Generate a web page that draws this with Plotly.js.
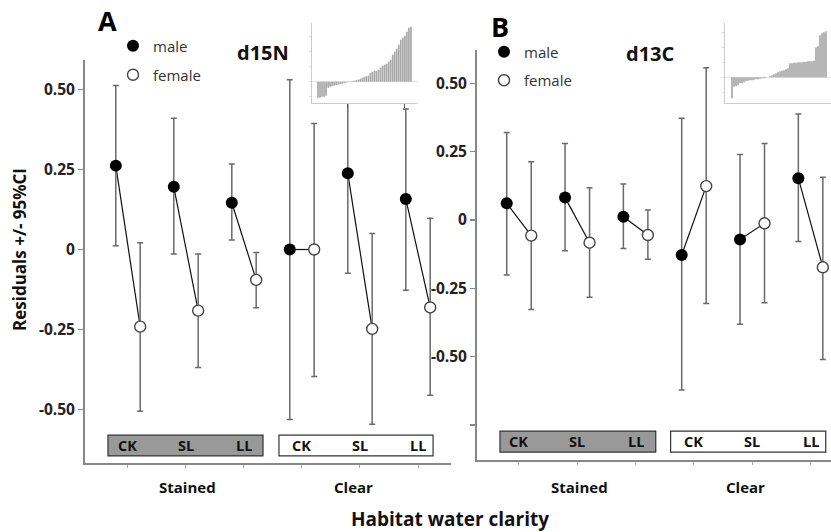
<!DOCTYPE html>
<html>
<head>
<meta charset="utf-8">
<script src="https://cdn.plot.ly/plotly-3.0.1.min.js"></script>
<style>html,body{margin:0;padding:0;background:#fff;}#chart{width:831px;height:532px;}</style>
</head>
<body>
<div id="chart"></div>
<script>
// ---------- DATA ----------
var categories = ['CK', 'SL', 'LL', 'CK', 'SL', 'LL'];
var clarity = ['Stained', 'Clear'];
var yTickValsA = [0.5, 0.25, 0, -0.25, -0.5];
var yTickTextA = ['0.50', '0.25', '0', '-0.25', '-0.50'];
var yTickValsB = [0.5, 0.25, 0, -0.25, -0.5, -0.75];
var yTickTextB = ['0.50', '0.25', '0', '-0.25', '-0.50', ''];

// Panel A: d15N
var maleA    = [0.262, 0.196, 0.146, 0.000, 0.238, 0.158];
var maleAHi  = [0.512, 0.410, 0.267, 0.530, 0.560, 0.439];
var maleALo  = [0.012, -0.014, 0.030, -0.531, -0.074, -0.127];
var femaleA   = [-0.241, -0.191, -0.095, 0.000, -0.248, -0.181];
var femaleAHi = [0.021, -0.014, -0.009, 0.394, 0.050, 0.098];
var femaleALo = [-0.505, -0.369, -0.182, -0.397, -0.546, -0.455];

// Panel B: d13C
var maleB    = [0.061, 0.082, 0.012, -0.128, -0.071, 0.153];
var maleBHi  = [0.320, 0.280, 0.132, 0.372, 0.240, 0.388];
var maleBLo  = [-0.201, -0.112, -0.104, -0.622, -0.381, -0.079];
var femaleB   = [-0.057, -0.083, -0.055, 0.124, -0.012, -0.173];
var femaleBHi = [0.213, 0.118, 0.037, 0.557, 0.280, 0.156];
var femaleBLo = [-0.327, -0.283, -0.144, -0.305, -0.303, -0.510];

// Inset distributions (sorted residuals)
var insetA = [-16, -16, -15, -15, -14, -6, -5, -4.5, -4, -3.5, -3, -2.5, -2, -1.5,
  -1, -0.5, 0, 0.5, 1, 1.5, 2, 3, 4, 5, 5.5, 6, 9, 10, 11, 11, 12, 14,
  16, 17, 18, 20, 22, 27, 30, 33, 37, 42, 44, 46, 50, 54, 55];
var insetB = [-21, -9.5, -9, -8, -6, -6, -5, -4, -3.5, -3, -3, -2.5, -2, -2, -1.5, -1, -1, -0.5, 0,
  1, 2, 3, 4, 5, 6, 6.5, 7, 8, 9,
  14, 14, 14.5, 14.5, 15, 15, 15, 15.5, 15.5, 16, 16, 16, 16.5,
  30, 31, 42, 44, 45, 46];

// ---------- BUILD ----------
var OFF = 0.21;
var FONT = 'Open Sans, Arial, sans-serif';
var W = 831, H = 532;
function px(x) { return x / W; }
function py(y) { return 1 - y / H; }

function idx(arr) { return arr.map(function (_, i) { return i; }); }
function diff(a, b) { return a.map(function (v, i) { return v - b[i]; }); }

function panelTraces(male, mHi, mLo, female, fHi, fLo, xa, ya, legendId) {
  var xm = idx(male).map(function (i) { return i - OFF; });
  var xf = idx(female).map(function (i) { return i + OFF; });
  var lx = [], ly = [];
  for (var i = 0; i < male.length; i++) {
    lx.push(xm[i], xf[i], null);
    ly.push(male[i], female[i], null);
  }
  var errStyle = { type: 'data', symmetric: false, color: '#6a6a6a', thickness: 1.5, width: 3 };
  return [
    { type: 'scatter', mode: 'lines', x: lx, y: ly, xaxis: xa, yaxis: ya,
      line: { color: '#111', width: 1.2 }, showlegend: false, hoverinfo: 'skip' },
    { type: 'scatter', mode: 'markers', name: 'male', x: xm, y: male, xaxis: xa, yaxis: ya,
      legend: legendId, legendgroup: 'm' + legendId,
      marker: { symbol: 'circle', size: 12, color: '#000', line: { width: 0 } },
      error_y: Object.assign({ array: diff(mHi, male), arrayminus: diff(male, mLo) }, errStyle) },
    { type: 'scatter', mode: 'markers', name: 'female', x: xf, y: female, xaxis: xa, yaxis: ya,
      legend: legendId, legendgroup: 'f' + legendId,
      marker: { symbol: 'circle', size: 11, color: '#fff', line: { width: 1.4, color: '#444' } },
      error_y: Object.assign({ array: diff(fHi, female), arrayminus: diff(female, fLo) }, errStyle) }
  ];
}

var data = []
  .concat(panelTraces(maleA, maleAHi, maleALo, femaleA, femaleAHi, femaleALo, 'x', 'y', 'legend'))
  .concat(panelTraces(maleB, maleBHi, maleBLo, femaleB, femaleBHi, femaleBLo, 'x2', 'y2', 'legend2'));

data.push({ type: 'bar', x: idx(insetA), y: insetA, xaxis: 'x3', yaxis: 'y3',
  marker: { color: '#aaaaaa', line: { width: 0 } }, showlegend: false, hoverinfo: 'skip' });
data.push({ type: 'bar', x: idx(insetB), y: insetB, xaxis: 'x4', yaxis: 'y4',
  marker: { color: '#aaaaaa', line: { width: 0 } }, showlegend: false, hoverinfo: 'skip' });

var tickFont = { family: FONT, size: 15.5, color: '#222', weight: 'bold' };

function xAxis(domain, range, anchor) {
  return { domain: domain, range: range, anchor: anchor, showline: true, linecolor: '#888', linewidth: 2,
    showgrid: false, zeroline: false, ticks: 'outside', ticklen: 3, tickwidth: 1, tickcolor: '#aaa',
    tickvals: idx(categories), showticklabels: false, fixedrange: true, automargin: false };
}
function yAxis(domain, range, anchor, tv, tt) {
  return { domain: domain, range: range, anchor: anchor, showline: true, linecolor: '#888', linewidth: 2,
    showgrid: false, zeroline: false, ticks: 'outside', ticklen: 5, tickwidth: 1.5, tickcolor: '#888',
    tickvals: tv, ticktext: tt, tickfont: tickFont, ticklabelstandoff: 0, fixedrange: true, automargin: false };
}
function insetX(domain, range, anchor, tv) {
  return { domain: domain, range: range, anchor: anchor, showline: true, linecolor: '#ccc', linewidth: 1,
    showgrid: false, zeroline: false, ticks: tv.length ? 'outside' : '', ticklen: 4, tickcolor: '#555',
    tickvals: tv, showticklabels: false, fixedrange: true };
}
function insetY(domain, range, anchor) {
  return { domain: domain, range: range, anchor: anchor, showline: true, linecolor: '#ccc', linewidth: 1,
    showgrid: false, zeroline: true, zerolinecolor: '#e4e4e4', zerolinewidth: 1,
    ticks: 'outside', ticklen: 2, tickcolor: '#ddd', dtick: 15, showticklabels: false, fixedrange: true };
}

var layout = {
  width: W, height: H,
  margin: { l: 0, r: 0, t: 0, b: 0, pad: 0 },
  paper_bgcolor: '#fff', plot_bgcolor: '#fff',
  font: { family: FONT, color: '#222' },
  bargap: 0.15,
  showlegend: true,
  xaxis: xAxis([px(85), px(451)], [-0.741, 5.569], 'y'),
  yaxis: yAxis([py(463), py(60)], [-0.667, 0.592], 'x', yTickValsA, yTickTextA),
  xaxis2: xAxis([px(477), 1], [-0.72, 5.35], 'y2'),
  yaxis2: yAxis([py(460), py(50)], [-0.878, 0.622], 'x2', yTickValsB, yTickTextB),
  xaxis3: insetX([px(312), px(418)], [-2.97, 49.5], 'y3', [14.8, 43]),
  yaxis3: insetY([py(103), py(23)], [-21.3, 58.7], 'x3'),
  xaxis4: insetX([px(725), 1], [-3.5, 49.5], 'y4', []),
  yaxis4: insetY([py(103), py(23)], [-25.7, 54.3], 'x4'),
  legend: { x: px(113), y: py(29.5), xanchor: 'left', yanchor: 'top', bgcolor: 'rgba(0,0,0,0)',
    font: { family: FONT, size: 15, color: '#333' }, tracegroupgap: 6.5, itemclick: false },
  legend2: { x: px(484), y: py(35.5), xanchor: 'left', yanchor: 'top', bgcolor: 'rgba(0,0,0,0)',
    font: { family: FONT, size: 15, color: '#333' }, tracegroupgap: 6, itemclick: false },
  shapes: [
    { type: 'rect', xref: 'x', yref: 'y', x0: -0.345, x1: 2.328, y0: -0.645, y1: -0.58,
      fillcolor: '#999', line: { color: '#333', width: 1.2 }, layer: 'below' },
    { type: 'rect', xref: 'x', yref: 'y', x0: 2.603, x1: 5.26, y0: -0.645, y1: -0.58,
      fillcolor: '#fff', line: { color: '#333', width: 1.2 }, layer: 'below' },
    { type: 'rect', xref: 'x2', yref: 'y2', x0: -0.326, x1: 2.345, y0: -0.849, y1: -0.772,
      fillcolor: '#999', line: { color: '#333', width: 1.2 }, layer: 'below' },
    { type: 'rect', xref: 'x2', yref: 'y2', x0: 2.60, x1: 5.26, y0: -0.849, y1: -0.772,
      fillcolor: '#fff', line: { color: '#333', width: 1.2 }, layer: 'below' }
  ],
  annotations: []
};

var ann = layout.annotations;
function bold(size, color) { return { family: FONT, size: size, color: color || '#111', weight: 'bold' }; }
function note(o) { o.showarrow = false; o.xanchor = 'center'; o.yanchor = 'middle'; ann.push(o); }
// box labels
categories.forEach(function (c, i) {
  note({ xref: 'x', yref: 'y', x: i, y: -0.6125, text: c, font: bold(14.5) });
  note({ xref: 'x2', yref: 'y2', x: i, y: -0.8105, text: c, font: bold(14.5) });
});
// clarity labels
[1.03, 3.88].forEach(function (xv, k) {
  note({ xref: 'x', yref: 'paper', x: xv, y: py(487), text: clarity[k], font: bold(15) });
  note({ xref: 'x2', yref: 'paper', x: xv, y: py(487), text: clarity[k], font: bold(15) });
});
note({ xref: 'paper', yref: 'paper', x: px(450), y: py(519), text: 'Habitat water clarity', font: bold(19) });
note({ xref: 'paper', yref: 'paper', x: px(19), y: py(250), text: 'Residuals +/- 95%CI', textangle: -90, font: bold(17) });
note({ xref: 'paper', yref: 'paper', x: px(108), y: py(20), text: 'A', font: bold(27, '#000') });
note({ xref: 'paper', yref: 'paper', x: px(500), y: py(27), text: 'B', font: bold(27, '#000') });
note({ xref: 'paper', yref: 'paper', x: px(262.5), y: py(52), text: 'd15N', font: bold(20) });
note({ xref: 'paper', yref: 'paper', x: px(650.5), y: py(53), text: 'd13C', font: bold(20) });

Plotly.newPlot('chart', data, layout, { staticPlot: true, displayModeBar: false });
</script>
</body>
</html>
